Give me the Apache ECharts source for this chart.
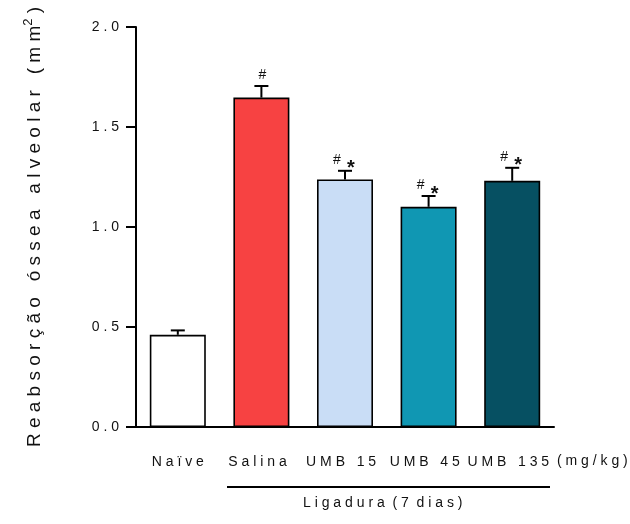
<!DOCTYPE html>
<html>
<head>
<meta charset="utf-8">
<script src="https://cdn.jsdelivr.net/npm/echarts@6/dist/echarts.min.js"></script>
<style>html,body{margin:0;padding:0;background:#fff}#c{width:630px;height:524px}</style>
</head>
<body>
<div id="c"></div>
<script>
// ---- data ----
var categories = ['Naïve', 'Salina', 'UMB 15', 'UMB 45', 'UMB 135'];
var means = [0.461, 1.647, 1.238, 1.101, 1.231];
var sems = [0.022, 0.058, 0.043, 0.054, 0.065];
var sigHash = [false, true, true, true, true];
var sigStar = [false, false, true, true, true];
var barColors = ['#FFFFFF', '#F74242', '#C9DDF6', '#1097B3', '#065062'];
var yTicks = [0, 0.5, 1.0, 1.5, 2.0];

function spaced(s) { return s.split('').join(' '); }
function spacedWords(s, gap) { return s.split(' ').map(spaced).join(gap || '   '); }

var FONT = 'Arial, "Liberation Sans", sans-serif';
var chart = echarts.init(document.getElementById('c'), null, {renderer: 'canvas'});

var option = {
  animation: false,
  backgroundColor: '#fff',
  grid: {left: 136, right: 76, top: 27, bottom: 97, containLabel: false},
  xAxis: {
    type: 'category',
    data: categories,
    axisLine: {show: true, lineStyle: {color: '#000', width: 2}},
    axisTick: {show: false},
    axisLabel: {
      interval: 0, hideOverlap: false,
      margin: 28, fontSize: 14, color: '#111', fontFamily: FONT,
      formatter: function (v, i) { return i === 0 ? spaced(v) : spacedWords(v) + '  '; }
    }
  },
  yAxis: {
    type: 'value', min: 0, max: 2, interval: 0.5,
    name: '{m|' + spacedWords('Reabsorção óssea alveolar') + '   ( m m}{s|2}{m| )}',
    nameLocation: 'middle', nameRotate: 90, nameGap: 89,
    nameTextStyle: {
      rich: {
        m: {fontSize: 19, color: '#111', fontFamily: FONT},
        s: {fontSize: 13, color: '#111', fontFamily: FONT, verticalAlign: 'top', padding: [0, 0, 12, 0]}
      }
    },
    axisLine: {show: true, lineStyle: {color: '#000', width: 2}},
    axisTick: {show: true, inside: false, length: 10, lineStyle: {color: '#000', width: 2}},
    splitLine: {show: false},
    axisLabel: {
      margin: 17, fontSize: 14, color: '#111', fontFamily: FONT,
      formatter: function (v) { return spaced(v.toFixed(1)); }
    }
  },
  series: [
    {
      type: 'bar',
      barWidth: 56,
      data: means.map(function (m, i) {
        return {value: m, itemStyle: {color: barColors[i], borderColor: '#000', borderWidth: 1.6}};
      })
    },
    {
      type: 'custom',
      data: means.map(function (m, i) { return [i, m, sems[i]]; }),
      renderItem: function (params, api) {
        var i = params.dataIndex;
        var mean = api.value(1), sem = api.value(2);
        var top = api.coord([i, mean + sem]);
        var base = api.coord([i, mean]);
        var x = top[0];
        var ch = [
          {type: 'line', shape: {x1: x, y1: base[1], x2: x, y2: top[1]}, style: {stroke: '#000', lineWidth: 2}},
          {type: 'line', shape: {x1: x - 7, y1: top[1], x2: x + 7, y2: top[1]}, style: {stroke: '#000', lineWidth: 2}}
        ];
        var hasStar = sigStar[i];
        if (sigHash[i]) {
          ch.push({type: 'text', style: {
            text: '#', x: hasStar ? x - 8 : x + 1, y: top[1] - 11,
            align: 'center', verticalAlign: 'middle',
            font: '14px ' + FONT, fill: '#111'}});
        }
        if (hasStar) {
          ch.push({type: 'text', style: {
            text: '*', x: x + 6, y: top[1] - 2,
            align: 'center', verticalAlign: 'middle',
            font: 'bold 20px ' + FONT, fill: '#111'}});
        }
        return {type: 'group', children: ch};
      },
      z: 5
    }
  ],
  graphic: [
    {type: 'text', left: 557, top: 454, style: {text: '( m g / k g )', font: '14px ' + FONT, fill: '#111'}},
    {type: 'line', shape: {x1: 227, y1: 487, x2: 550, y2: 487}, style: {stroke: '#000', lineWidth: 2}},
    {type: 'text', left: 303, top: 496, style: {text: spacedWords('Ligadura (7 dias)', '  '), font: '14px ' + FONT, fill: '#111'}}
  ]
};
chart.setOption(option);
</script>
</body>
</html>
